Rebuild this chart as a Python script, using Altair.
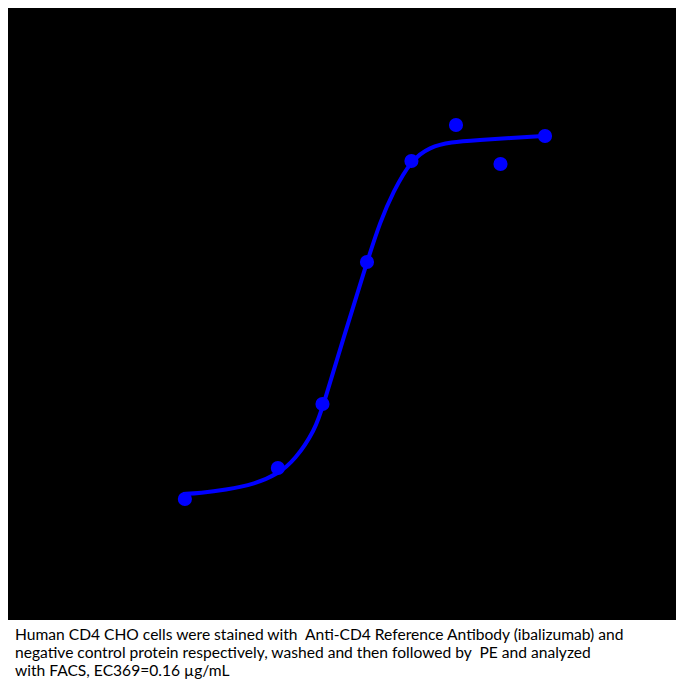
import altair as alt
import pandas as pd

# Measured points: concentration (µg/mL) and response (MFI)
conc = [0.00138, 0.0137, 0.0412, 0.1235, 0.370, 1.111, 3.333, 10.0]
mfi = [12100, 15200, 21600, 35800, 45900, 49500, 45600, 48400]

# Fitted curve
curve_conc = [0.00132, 0.00201, 0.00372, 0.0078, 0.01374, 0.0209, 0.0343, 0.0418,
              0.0718, 0.1236, 0.1706, 0.235, 0.3664, 0.585, 0.959, 2.01, 4.22, 10.0]
curve_mfi = [12600, 12700, 13000, 13600, 14600, 16000, 19000, 21400,
             28700, 35800, 39800, 42800, 46000, 47300, 47800, 48000, 48200, 48400]

caption = [
    "Human CD4 CHO cells were stained with\u00a0 Anti-CD4 Reference Antibody (ibalizumab) and",
    "negative control protein respectively, washed and then followed by\u00a0 PE and analyzed",
    "with FACS, EC369=0.16 µg/mL",
]

pts = pd.DataFrame({"conc": conc, "mfi": mfi})
crv = pd.DataFrame({"conc": curve_conc, "mfi": curve_mfi})

xs = alt.Scale(type="log", domain=[1.754e-5, 253.5], nice=False)
ys = alt.Scale(domain=[0, 61200], nice=False, zero=False)

line = alt.Chart(crv).mark_line(color="#0000ff", strokeWidth=4, interpolate="basis").encode(
    x=alt.X("conc:Q", scale=xs, axis=None),
    y=alt.Y("mfi:Q", scale=ys, axis=None),
)
dots = alt.Chart(pts).mark_circle(color="#0000ff", size=200, opacity=1).encode(
    x=alt.X("conc:Q", scale=xs, axis=None),
    y=alt.Y("mfi:Q", scale=ys, axis=None),
)

chart = (line + dots).properties(
    width=668,
    height=612,
    padding={"left": 0, "top": 0, "right": 0, "bottom": 0},
    background="white",
    title=alt.TitleParams(
        text=caption,
        orient="bottom",
        anchor="start",
        dx=7,
        offset=8,
        baseline="top",
        font="Lato",
        fontSize=15.6,
        fontWeight="normal",
        color="black",
        lineHeight=18,
    ),
).configure_view(fill="black", stroke=None)

chart.save("out.html", embed_options={"renderer": "svg", "actions": False})
